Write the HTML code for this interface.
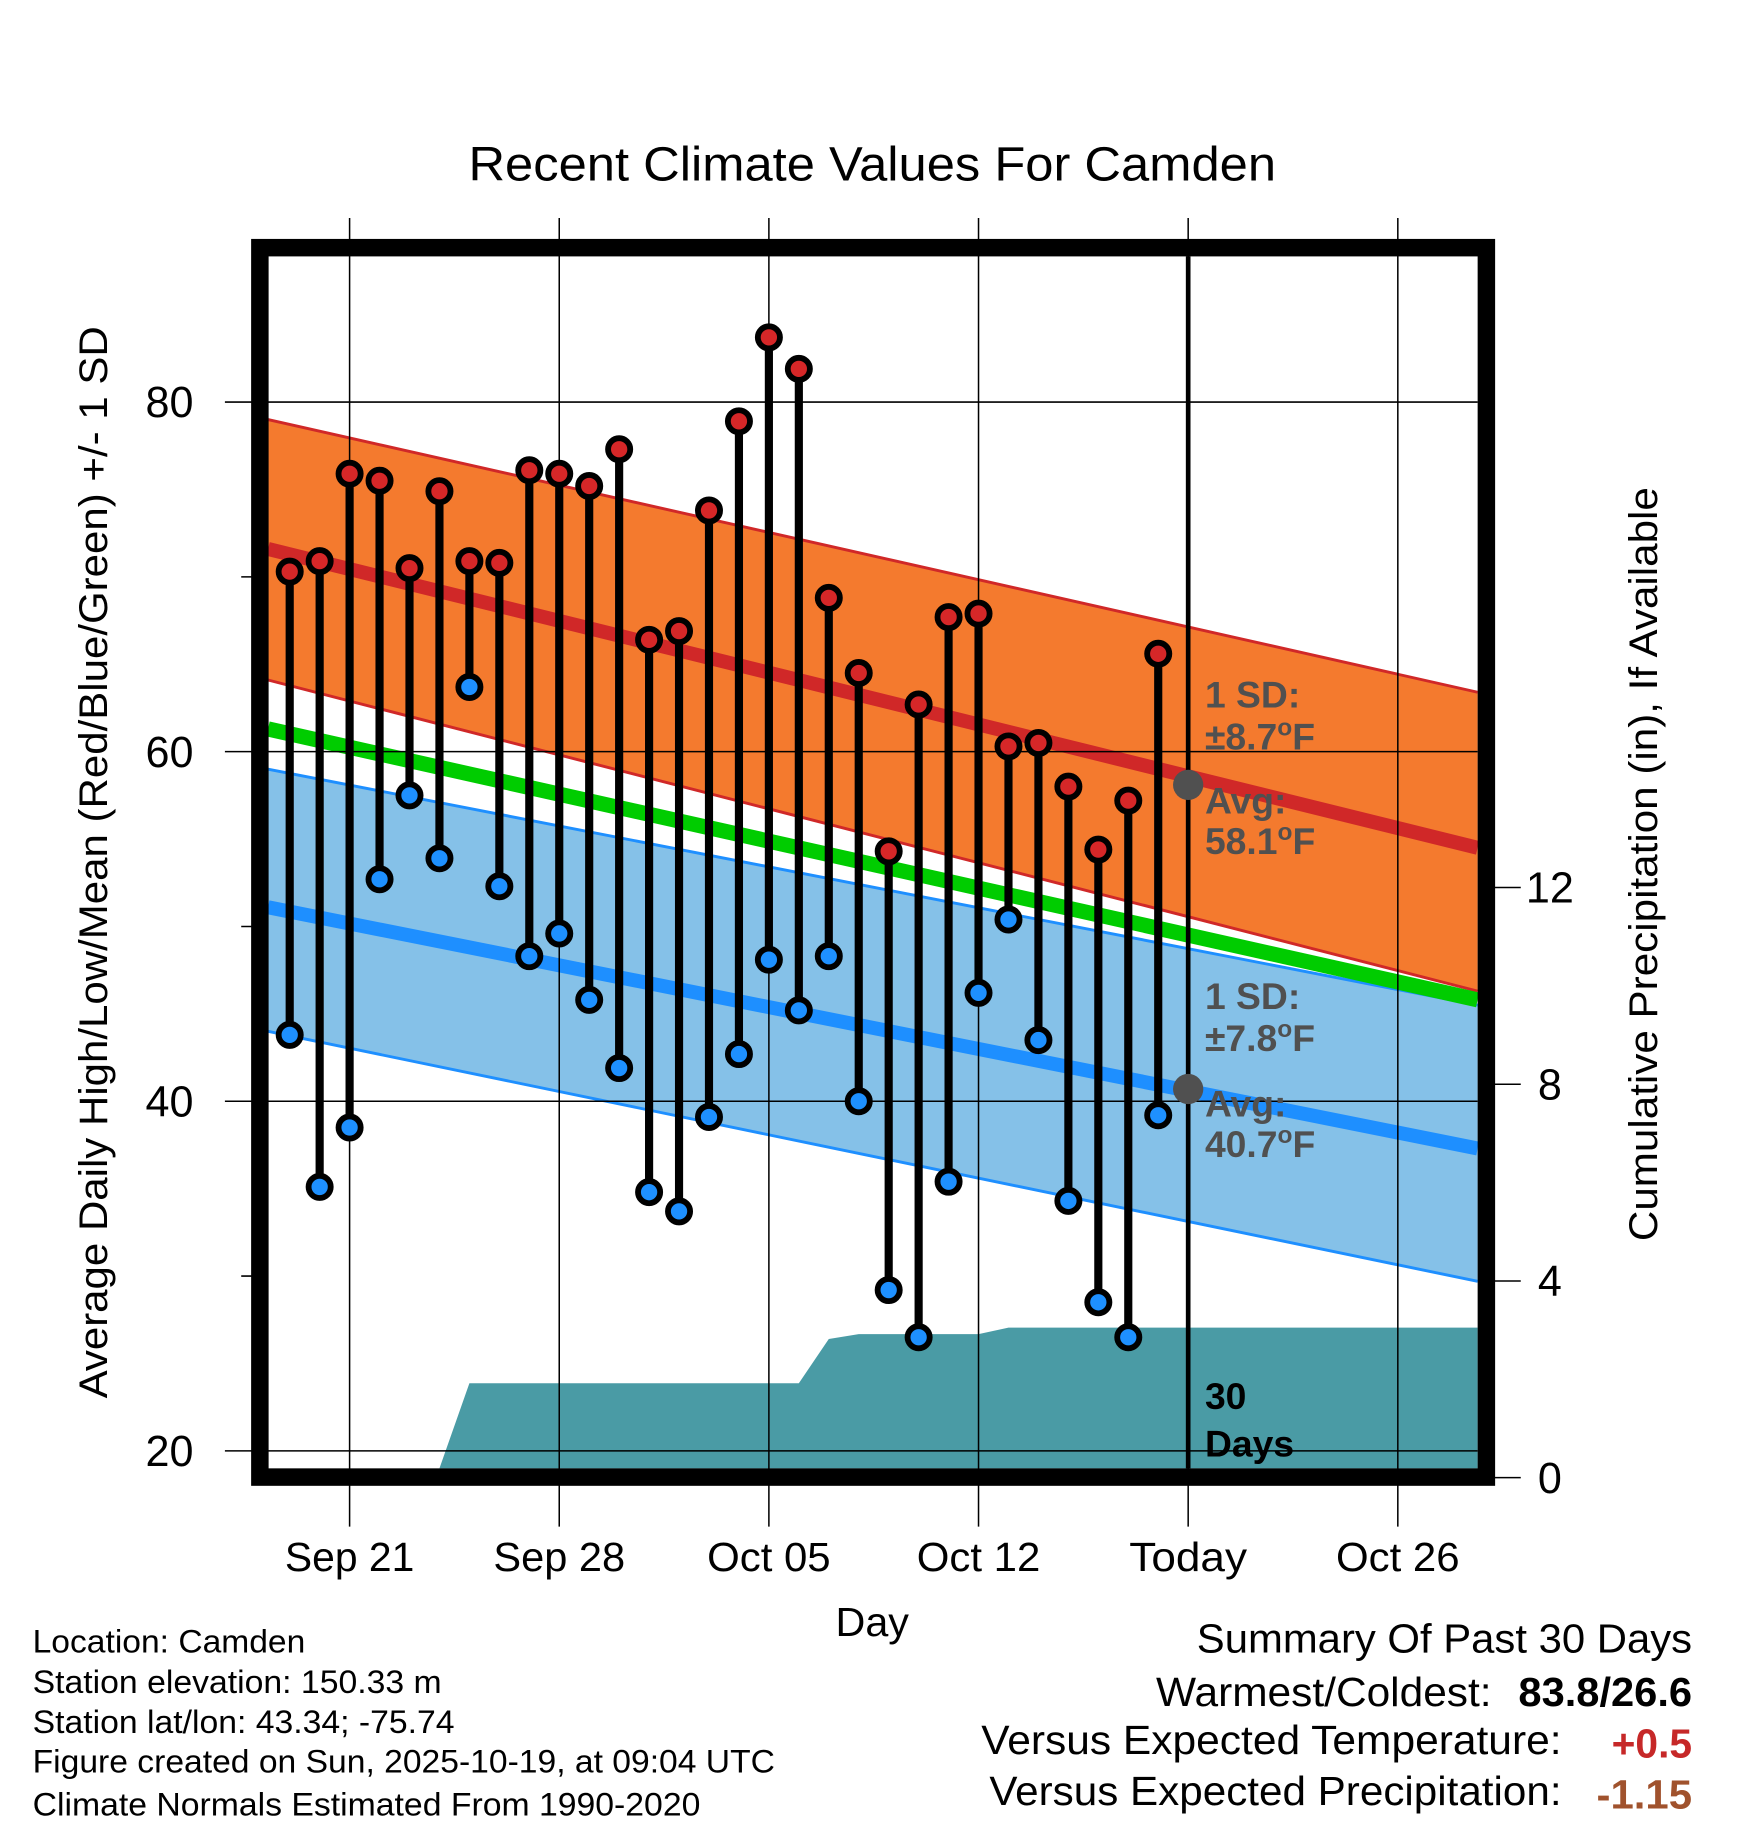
<!DOCTYPE html>
<html><head><meta charset="utf-8"><style>
html,body{margin:0;padding:0;background:#fff;}
svg{display:block;font-family:"Liberation Sans",sans-serif;}
</style></head><body>
<svg id="chart" width="1748" height="1828" viewBox="0 0 1500 1568.6" xmlns="http://www.w3.org/2000/svg">
<text x="402" y="155" font-size="41" textLength="693" lengthAdjust="spacingAndGlyphs">Recent Climate Values For Camden</text>
<g id="plot"></g>
<text transform="translate(92,1200) rotate(-90)" font-size="34" textLength="920" lengthAdjust="spacingAndGlyphs">Average Daily High/Low/Mean (Red/Blue/Green) +/- 1 SD</text>
<text transform="translate(1422,1065) rotate(-90)" font-size="34" textLength="647" lengthAdjust="spacingAndGlyphs">Cumulative Precipitation (in), If Available</text>
<text x="717" y="1404" font-size="35" textLength="63" lengthAdjust="spacingAndGlyphs">Day</text>
<g font-size="28">
<text x="28" y="1418" textLength="234" lengthAdjust="spacingAndGlyphs">Location: Camden</text>
<text x="28" y="1453" textLength="351" lengthAdjust="spacingAndGlyphs">Station elevation: 150.33 m</text>
<text x="28" y="1487" textLength="362" lengthAdjust="spacingAndGlyphs">Station lat/lon: 43.34; -75.74</text>
<text x="28" y="1521" textLength="637" lengthAdjust="spacingAndGlyphs">Figure created on Sun, 2025-10-19, at 09:04 UTC</text>
<text x="28" y="1558" textLength="573" lengthAdjust="spacingAndGlyphs">Climate Normals Estimated From 1990-2020</text>
</g>
<g font-size="35">
<text x="1027" y="1418" textLength="425" lengthAdjust="spacingAndGlyphs">Summary Of Past 30 Days</text>
<text x="992" y="1464" textLength="288" lengthAdjust="spacingAndGlyphs">Warmest/Coldest:</text>
<text x="1303" y="1464" font-weight="bold" textLength="149" lengthAdjust="spacingAndGlyphs">83.8/26.6</text>
<text x="842" y="1505" textLength="498" lengthAdjust="spacingAndGlyphs">Versus Expected Temperature:</text>
<text x="1383" y="1508" font-weight="bold" fill="#c62828" textLength="69" lengthAdjust="spacingAndGlyphs">+0.5</text>
<text x="849" y="1549" textLength="491" lengthAdjust="spacingAndGlyphs">Versus Expected Precipitation:</text>
<text x="1370" y="1552" font-weight="bold" fill="#a0522d" textLength="82" lengthAdjust="spacingAndGlyphs">-1.15</text>
</g>
</svg>
<script>
// Data
const highs=[70.3,70.9,75.9,75.5,70.5,74.9,70.9,70.8,76.1,75.9,75.2,77.3,66.4,66.9,73.8,78.9,83.7,81.9,68.8,64.5,54.3,62.7,67.7,67.9,60.3,60.5,58.0,54.4,57.2,65.6];
const lows=[43.8,35.1,38.5,52.7,57.5,53.9,63.7,52.3,48.3,49.6,45.8,41.9,34.8,33.7,39.1,42.7,48.1,45.2,48.3,40.0,29.2,26.5,35.4,46.2,50.4,43.5,34.3,28.5,26.5,39.2];
const precip=[0,0,0,0,0,0,1.92,1.92,1.92,1.92,1.92,1.92,1.92,1.92,1.92,1.92,1.92,1.92,2.82,2.92,2.92,2.92,2.92,2.92,3.05,3.05,3.05,3.05,3.05,3.05];
const firstDay=-2; // days relative to Sep 21
const hiMean=[71.6,54.5], hiUpper=[79.0,63.4], hiLower=[64.1,46.3];
const avgMean=[61.3,45.8];
const loMean=[51.1,37.3], loUpper=[59.0,45.5], loLower=[44.0,29.7];
const xTickDays=[0,7,14,21,28,35];
const xTickLabels=["Sep 21","Sep 28","Oct 05","Oct 12","Today","Oct 26"];
const xTickWidths=[111,113,106,106,101,106];
const yTicks=[20,40,60,80];
const yMinor=[30,50,70];
const pTicks=[0,4,8,12];

const NS="http://www.w3.org/2000/svg";
const X=d=>300+d*25.7;
const Y=t=>345+(80-t)*15;
const P=p=>1268-p*42.2;
const L=230,R=1268,T=220,B=1260;
const g=document.getElementById('plot');
function el(tag,a,parent){const e=document.createElementNS(NS,tag);for(const k in a)e.setAttribute(k,a[k]);(parent||g).appendChild(e);return e;}
function band(up,lo,fill,name){
  const d=`M${L},${Y(up[0])}L${R},${Y(up[1])}L${R},${Y(lo[1])}L${L},${Y(lo[0])}Z`;
  const e=el('path',{d:d,fill:fill});
  
  
}
function line(v,color,w,name){
  const e=el('line',{x1:L,y1:Y(v[0]),x2:R,y2:Y(v[1]),stroke:color,'stroke-width':w});
  
  
}
// precipitation area
let pd=`M${L},${B}`;
precip.forEach((p,i)=>{const x=X(firstDay+i);if(i===0)pd+=`L${L},${Math.min(P(p),B)}`;pd+=`L${x},${Math.min(P(p),B)}`;});
pd+=`L${R},${P(precip[precip.length-1])}L${R},${B}Z`;
const pa=el('path',{d:pd,fill:'#4a9ba5'});


band(hiUpper,hiLower,'#f47a2e','high-sd-band');
line(hiUpper,'#d02828',2.5,'high-upper-line');
line(hiLower,'#d02828',2.5,'high-lower-line');
band(loUpper,loLower,'#85c1e8','low-sd-band');
line(loUpper,'#1e8fff',2.5,'low-upper-line');
line(loLower,'#1e8fff',2.5,'low-lower-line');
line(avgMean,'#00cc00',13,'mean-avg-line');
line(hiMean,'#d02828',12,'high-mean-line');
line(loMean,'#1e8fff',12,'low-mean-line');
// grid
xTickDays.forEach((d,i)=>{
  const gl=el('line',{x1:X(d),y1:187,x2:X(d),y2:1310,stroke:'#000','stroke-width':1.3});
  
  
  const t=el('text',{x:X(d)-xTickWidths[i]/2,y:1348,'font-size':35,textLength:xTickWidths[i],lengthAdjust:'spacingAndGlyphs'});
  t.textContent=xTickLabels[i];
  
  
});
yTicks.forEach(v=>{
  const gl=el('line',{x1:193,y1:Y(v),x2:R,y2:Y(v),stroke:'#000','stroke-width':1.3});
  
  
  const t=el('text',{x:166,y:Y(v)+13,'font-size':37,'text-anchor':'end'});
  t.textContent=v;
  
  
});
yMinor.forEach(v=>{
  const m=el('line',{x1:207,y1:Y(v),x2:222,y2:Y(v),stroke:'#000','stroke-width':1.3});
  
  
});
pTicks.forEach(v=>{
  const m=el('line',{x1:1276,y1:P(v),x2:1305,y2:P(v),stroke:'#000','stroke-width':1.3});
  
  
  const t=el('text',{x:1330,y:P(v)+13,'font-size':37,'text-anchor':'middle'});
  t.textContent=v;
  
  
});
// today line
const tl=el('line',{x1:X(28),y1:T,x2:X(28),y2:B,stroke:'#000','stroke-width':4});


// stems and markers
highs.forEach((h,i)=>{
  const x=X(firstDay+i);
  const s=el('line',{x1:x,y1:Y(h),x2:x,y2:Y(lows[i]),stroke:'#000','stroke-width':7});
  
  
});
highs.forEach((h,i)=>{
  const x=X(firstDay+i);
  const a=el('circle',{cx:x,cy:Y(h),r:9.5,fill:'#d62728',stroke:'#000','stroke-width':5});
  
  
  const b=el('circle',{cx:x,cy:Y(lows[i]),r:9.5,fill:'#1e90ff',stroke:'#000','stroke-width':5});
  
  
});
// today markers
const todayHi=58.1, todayLo=40.7;
[todayHi,todayLo].forEach(v=>{
  const c=el('circle',{cx:X(28),cy:Y(v),r:13,fill:'#505050'});
  
  
});
function ann(txt,y,name,fill){
  const t=el('text',{x:1034,y:y,'font-size':32,'font-weight':'bold',fill:fill||'#505050'});
  t.innerHTML=txt;
  
  
}
ann('1 SD:',607,'high-sd-label');
ann('±8.7<tspan dy="-12" font-size="21">o</tspan><tspan dy="12">F</tspan>',643,'high-sd-value');
ann('Avg:',698,'high-avg-label');
ann('58.1<tspan dy="-12" font-size="21">o</tspan><tspan dy="12">F</tspan>',733,'high-avg-value');
ann('1 SD:',866,'low-sd-label');
ann('±7.8<tspan dy="-12" font-size="21">o</tspan><tspan dy="12">F</tspan>',902,'low-sd-value');
ann('Avg:',958,'low-avg-label');
ann('40.7<tspan dy="-12" font-size="21">o</tspan><tspan dy="12">F</tspan>',993,'low-avg-value');
ann('30',1209,'days-label-num','#000');
ann('Days',1250,'days-label','#000');
// frame
const fr=el('rect',{x:223,y:212.5,width:1052.5,height:1055,fill:'none',stroke:'#000','stroke-width':15});


</script>
</body></html>
